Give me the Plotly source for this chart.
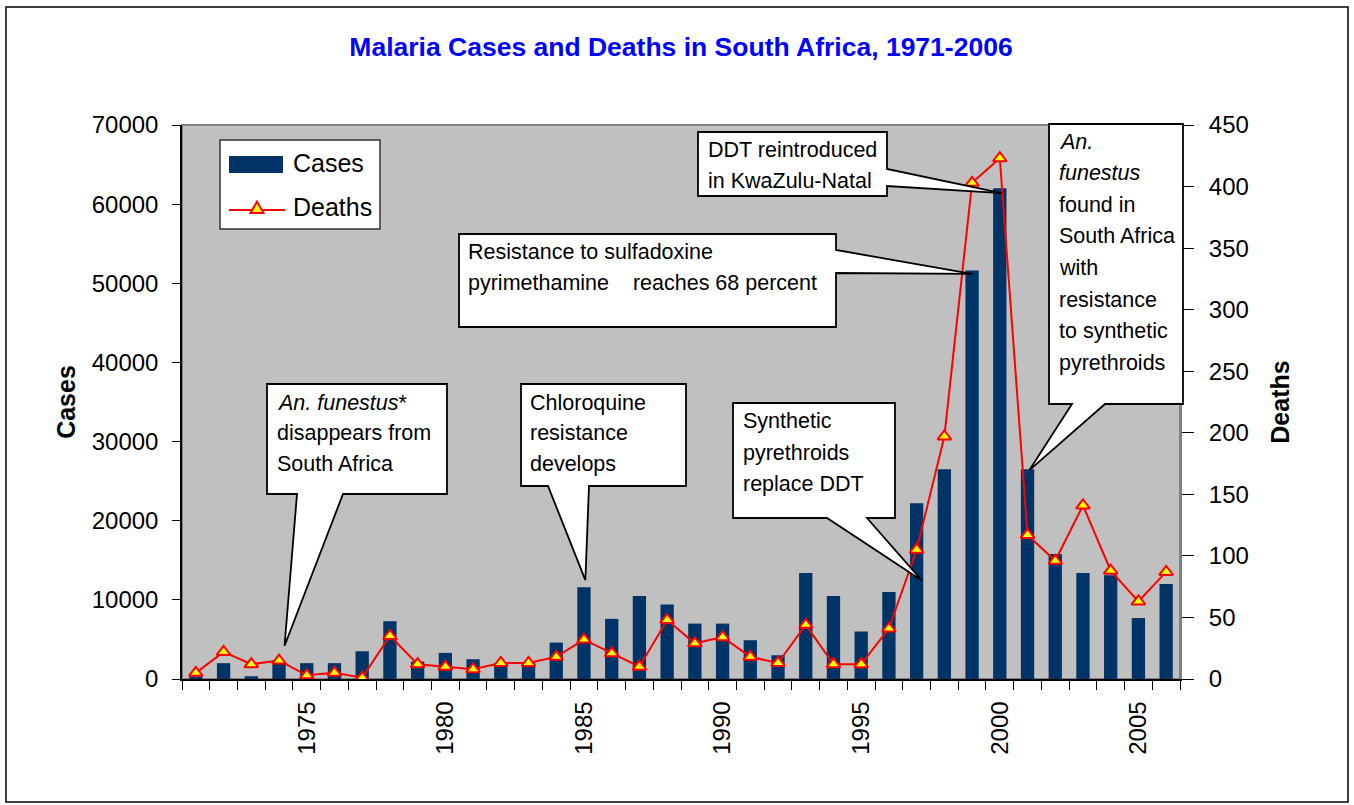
import plotly.graph_objects as go

# ---------------- data ----------------
years = list(range(1971, 2007))
cases = [300, 2000, 350, 2000, 2000, 2000, 3500, 7300, 2200, 3300,
         2500, 1900, 2100, 4600, 11600, 7600, 10500, 9400, 7000, 7000,
         4900, 3000, 13400, 10500, 6000, 11000, 22200, 26500, 51600, 62000,
         26500, 15800, 13400, 13100, 7700, 12000]
deaths = [5, 22, 12, 15, 3, 5, 1, 35, 12, 10,
          8, 13, 13, 18, 32, 21, 10, 48, 29, 34,
          18, 13, 44, 12, 12, 41, 105, 197, 403, 423,
          117, 96, 141, 88, 63, 87]
tick_years = [1975, 1980, 1985, 1990, 1995, 2000, 2005]
tick_labels = [str(y) for y in tick_years]
case_ticks = [0, 10000, 20000, 30000, 40000, 50000, 60000, 70000]
death_ticks = [0, 50, 100, 150, 200, 250, 300, 350, 400, 450]

# callout texts and the (year, cases) point each one points at
callout_lines = [
    ["<i>An. funestus</i>*", "disappears from", "South Africa"],
    ["Chloroquine", "resistance", "develops"],
    ["Synthetic", "pyrethroids", "replace DDT"],
    ["Resistance to sulfadoxine", "pyrimethamine\u00a0\u00a0\u00a0 reaches 68 percent"],
    ["DDT reintroduced", "in KwaZulu-Natal"],
    ["<i>An.</i>", "<i>funestus</i>", "found in", "South Africa", "with",
     "resistance", "to synthetic", "pyrethroids"],
]
callout_years = [1974.2, 1985.05, 1997.2, 1999.0, 2000.07, 2001.07]
callout_cases = [4200, 12500, 12400, 51200, 61400, 26400]

# ---------------- layout constants (pixels) ----------------
W, H = 1354, 805
PL, PR, PT, PB = 182, 1180, 125, 679
XMIN, XMAX = 1970.5, 2006.5
YMAX, Y2MAX = 70000, 450
FONT = "Liberation Sans, Arial, sans-serif"


def pp(px, py):
    return ((px - PL) / (PR - PL), (PB - py) / (PB - PT))


def dp(year, val):
    return ((year - XMIN) / (XMAX - XMIN), val / YMAX)


# box geometry: (left, top, right, bottom, tail side, tail a, tail b, text left, first line y, line step)
boxes = [
    (267, 384, 447, 494, "bottom", 297, 343, 275, 403, 30.5),
    (521, 384, 686, 486, "bottom", 548, 589, 528, 403, 30.5),
    (733, 403, 895, 518, "bottom", 827, 867, 741, 421, 31.5),
    (459, 234, 836, 327, "right", 250, 273, 466, 252, 31),
    (698, 132, 887, 196, "right", 169, 186, 706, 150, 31),
    (1049, 124, 1183, 404, "bottom", 1072, 1105, 1057, 141.5, 31.6),
]

fig = go.Figure()
fig.add_trace(go.Bar(x=years, y=cases, name="Cases", marker=dict(color="#003366", line=dict(width=0)),
                     width=0.48, showlegend=False))
fig.add_trace(go.Scatter(x=years, y=deaths, name="Deaths", yaxis="y2", mode="lines+markers",
                         line=dict(color="#FF0000", width=2),
                         marker=dict(symbol="triangle-up", size=12, color="#FFFF00",
                                     line=dict(color="#FF0000", width=2)),
                         showlegend=False))

shapes = []
annotations = []


def path_from(points):
    s = "M " + " L ".join(f"{x:.5f},{y:.5f}" for x, y in points) + " Z"
    return s


for (l, t, r, b, side, a1, a2, tx, ty, step), lines, cy, cv in zip(
        boxes, callout_lines, callout_years, callout_cases):
    tip = dp(cy, cv)
    if side == "bottom":
        pts = [pp(l, t), pp(r, t), pp(r, b), pp(a2, b), tip, pp(a1, b), pp(l, b)]
    else:
        pts = [pp(l, t), pp(r, t), pp(r, a1), tip, pp(r, a2), pp(r, b), pp(l, b)]
    shapes.append(dict(type="path", path=path_from(pts), xref="paper", yref="paper",
                       fillcolor="white", line=dict(color="black", width=1.8), layer="above"))
    for i, txt in enumerate(lines):
        x, y = pp(tx, ty + i * step)
        annotations.append(dict(text=txt, x=x, y=y, xref="paper", yref="paper",
                                xanchor="left", yanchor="middle", showarrow=False,
                                font=dict(family=FONT, size=21.5, color="black")))

# legend (drawn)
lx0, ly0 = pp(220, 140)
lx1, ly1 = pp(380, 229)
shapes.append(dict(type="rect", x0=lx0, y0=ly0, x1=lx1, y1=ly1, xref="paper", yref="paper",
                   fillcolor="white", line=dict(color="#333333", width=1.5), layer="above"))
bx0, by0 = pp(229, 156)
bx1, by1 = pp(283, 173)
shapes.append(dict(type="rect", x0=bx0, y0=by0, x1=bx1, y1=by1, xref="paper", yref="paper",
                   fillcolor="#003366", line=dict(width=0), layer="above"))
rx0, ry0 = pp(229, 210)
rx1, ry1 = pp(285, 210)
shapes.append(dict(type="line", x0=rx0, y0=ry0, x1=rx1, y1=ry1, xref="paper", yref="paper",
                   line=dict(color="#FF0000", width=2), layer="above"))
shapes.append(dict(type="path", path=path_from([pp(250.5, 213), pp(263.5, 213), pp(257, 201.5)]),
                   xref="paper", yref="paper", fillcolor="#FFFF00",
                   line=dict(color="#FF0000", width=2), layer="above"))
for txt, py in [("Cases", 163), ("Deaths", 207)]:
    x, y = pp(291, py)
    annotations.append(dict(text=txt, x=x, y=y, xref="paper", yref="paper", xanchor="left",
                            yanchor="middle", showarrow=False,
                            font=dict(family=FONT, size=25, color="black")))

# plot-area top/right border
shapes.append(dict(type="rect", x0=0, y0=0, x1=1, y1=1, xref="paper", yref="paper",
                   line=dict(color="#808080", width=2), layer="below"))
# outer chart border
ox0, oy0 = pp(6, 7)
ox1, oy1 = pp(1348, 802)
shapes.append(dict(type="rect", x0=ox0, y0=oy1, x1=ox1, y1=oy0, xref="paper", yref="paper",
                   line=dict(color="black", width=1.5), fillcolor="rgba(0,0,0,0)", layer="below"))

fig.update_layout(
    width=W, height=H, autosize=False,
    margin=dict(l=PL, r=W - PR, t=PT, b=H - PB, pad=0),
    paper_bgcolor="white", plot_bgcolor="#C0C0C0",
    font=dict(family=FONT, color="black"),
    title=dict(text="<b>Malaria Cases and Deaths in South Africa, 1971-2006</b>",
               font=dict(family=FONT, size=26.5, color="#0000FF"),
               x=0.5, xref="paper", xanchor="center",
               y=1 - 47 / H, yref="container", yanchor="middle"),
    xaxis=dict(range=[XMIN, XMAX], tickmode="array", tickvals=tick_years, ticktext=tick_labels,
               tickangle=-90, ticks="outside", ticklen=9, tickcolor="rgba(0,0,0,0)",
               ticklabelstandoff=2,
               minor=dict(tickmode="linear", tick0=XMIN, dtick=1, ticks="outside", ticklen=9,
                          tickcolor="black", tickwidth=1, showgrid=False),
               showline=True, linecolor="black", linewidth=1.5, showgrid=False, zeroline=False,
               tickfont=dict(size=24, family=FONT)),
    yaxis=dict(range=[0, YMAX], tickmode="array", tickvals=case_ticks, tickformat="d",
               ticks="outside", ticklen=8, tickcolor="black", ticklabelstandoff=9,
               showline=True, linecolor="black", linewidth=1.5, showgrid=False, zeroline=False,
               tickfont=dict(size=24, family=FONT),
               title=dict(text="<b>Cases</b>", font=dict(size=25, family=FONT), standoff=9)),
    yaxis2=dict(range=[0, Y2MAX], overlaying="y", side="right", tickmode="array",
                tickvals=death_ticks, ticks="outside", ticklen=12, tickcolor="black",
                ticklabelstandoff=10, showline=True, linecolor="#808080", linewidth=2,
                showgrid=False, zeroline=False, tickfont=dict(size=24, family=FONT),
                title=dict(text="<b>Deaths</b>", font=dict(size=25, family=FONT), standoff=24)),
    yaxis3=dict(range=[0, YMAX], overlaying="y", anchor="x", side="left", tickmode="array",
                tickvals=case_ticks, ticks="inside", ticklen=8, tickcolor="black",
                showticklabels=False, showline=False, showgrid=False, zeroline=False),
    bargap=0.5,
    shapes=shapes,
    annotations=annotations,
)

fig.write_html("out.html", config={"displayModeBar": False},
               post_script="document.body.style.margin='0';document.body.style.overflow='hidden';")
